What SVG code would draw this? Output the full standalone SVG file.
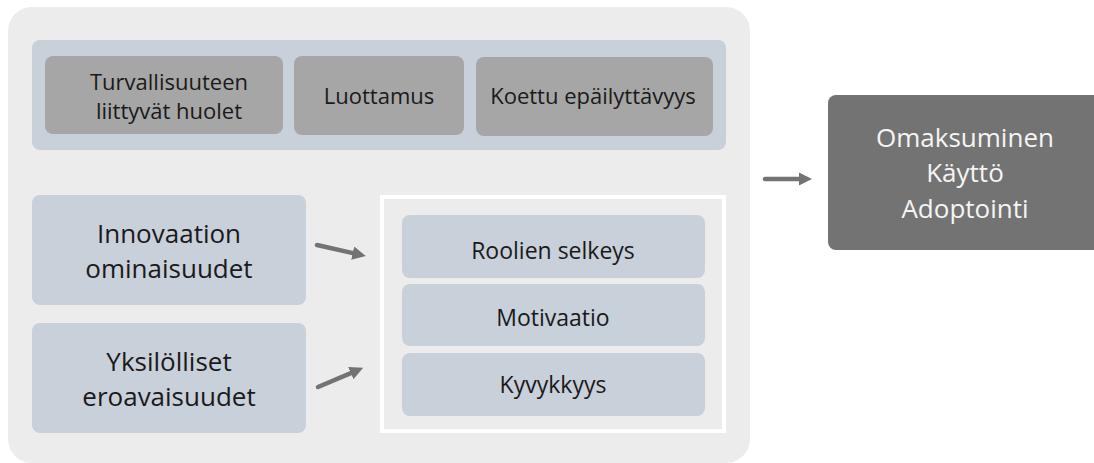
<svg xmlns="http://www.w3.org/2000/svg" width="1094" height="463" viewBox="0 0 1094 463">
<defs>
<style>
.t{font-family:"Open Sans","Liberation Sans",sans-serif;fill:#1a1a1a;text-anchor:middle}
.s{font-size:22px}
.r{font-size:23px}
.m{font-size:26px}
.w{fill:#f5f5f5}
.blue{fill:#c8d0da}
.dark{fill:#a6a6a6}
.arr{stroke:#737373;stroke-width:4.5;stroke-linecap:round;fill:none}
</style>
<marker id="ah" viewBox="0 0 10 10" refX="1" refY="5" markerWidth="3" markerHeight="3" orient="auto" markerUnits="strokeWidth">
<path d="M0,0 L10,5 L0,10 Z" fill="#737373"/>
</marker>
</defs>
<rect id="outer" x="8" y="7" width="742" height="456" rx="24" fill="#ececec"/>
<rect id="band" x="32" y="40" width="694" height="110" rx="8" class="blue"/>
<g id="n-turv">
<rect x="45" y="56" width="238" height="78" rx="8" class="dark"/>
<text class="t s" x="169" y="90">Turvallisuuteen</text>
<text class="t s" x="169" y="119">liittyvät huolet</text>
</g>
<g id="n-luot">
<rect x="294" y="56" width="170" height="79" rx="8" class="dark"/>
<text class="t s" x="379" y="104">Luottamus</text>
</g>
<g id="n-koet">
<rect x="476" y="57" width="237" height="79" rx="8" class="dark"/>
<text class="t s" x="593" y="104">Koettu epäilyttävyys</text>
</g>
<g id="n-inno">
<rect x="32" y="195" width="274" height="110" rx="8" class="blue"/>
<text class="t m" x="169" y="243">Innovaation</text>
<text class="t m" x="169" y="278">ominaisuudet</text>
</g>
<g id="n-yksi">
<rect x="32" y="323" width="274" height="110" rx="8" class="blue"/>
<text class="t m" x="169" y="371">Yksilölliset</text>
<text class="t m" x="169" y="406">eroavaisuudet</text>
</g>
<g id="n-group">
<rect x="382" y="197" width="342" height="234" fill="none" stroke="#ffffff" stroke-width="4"/>
</g>
<g id="n-rool">
<rect x="402" y="215" width="303" height="63" rx="8" class="blue"/>
<text class="t r" x="553" y="259">Roolien selkeys</text>
</g>
<g id="n-moti">
<rect x="402" y="284" width="303" height="62" rx="8" class="blue"/>
<text class="t r" x="553" y="326">Motivaatio</text>
</g>
<g id="n-kyvy">
<rect x="402" y="353" width="303" height="63" rx="8" class="blue"/>
<text class="t r" x="553" y="393">Kyvykkyys</text>
</g>
<g id="n-out">
<rect x="828" y="95" width="275" height="155" rx="8" fill="#737373"/>
<text class="t m w" x="965" y="147">Omaksuminen</text>
<text class="t m w" x="965" y="182">Käyttö</text>
<text class="t m w" x="965" y="218">Adoptointi</text>
</g>
<g id="connectors">
<line class="arr" x1="317" y1="245" x2="354" y2="253.4" marker-end="url(#ah)"/>
<line class="arr" x1="318" y1="387" x2="352" y2="372.6" marker-end="url(#ah)"/>
<line class="arr" x1="765" y1="179" x2="800" y2="179" marker-end="url(#ah)"/>
</g>
</svg>
